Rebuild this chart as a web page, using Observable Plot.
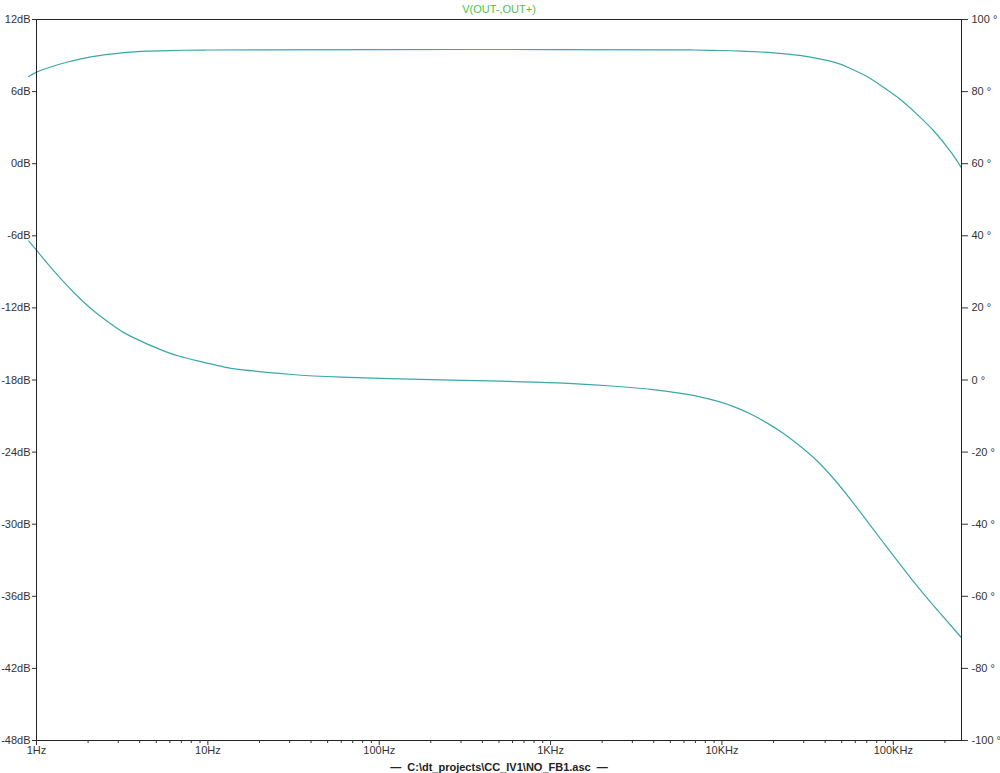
<!DOCTYPE html>
<html>
<head>
<meta charset="utf-8">
<script src="https://cdn.jsdelivr.net/npm/d3@7"></script>
<script src="https://cdn.jsdelivr.net/npm/@observablehq/plot@0.6"></script>
<style>
  html, body { margin: 0; padding: 0; background: #fff; }
</style>
</head>
<body>
<div id="chart"></div>
<script>
// ---- data ----
const freqMag = [0.9, 1, 1.21, 1.52, 1.81, 2.37, 3.71, 4.65, 7.2, 10, 20, 100, 1000, 5000, 6860, 10000, 12900, 20000, 29000, 45000, 56700, 71300, 88800, 111000, 139000, 173000, 216000, 250000];
const magDB   = [7.25, 7.62, 8.05, 8.46, 8.72, 9.02, 9.3, 9.37, 9.44, 9.46, 9.48, 9.5, 9.5, 9.48, 9.46, 9.42, 9.37, 9.23, 8.99, 8.45, 7.9, 7.2, 6.3, 5.3, 4.05, 2.7, 1.0, -0.35];

const freqPhase = [0.9, 1, 1.16, 1.45, 1.81, 2.27, 2.84, 3.55, 5.56, 6.96, 8.7, 12.2, 16, 30, 60, 229, 447, 1100, 2150, 3860, 6030, 7550, 9500, 11800, 14800, 18600, 23100, 29000, 36200, 45300, 56700, 71000, 88800, 111000, 139000, 182000, 250000];
const phaseDeg  = [38.6, 36.0, 32.3, 27.1, 22.4, 18.3, 14.9, 12.1, 8.0, 6.5, 5.3, 3.7, 2.8, 1.6, 0.8, 0.05, -0.25, -0.8, -1.6, -2.6, -3.86, -4.74, -5.94, -7.45, -9.52, -12.1, -15.0, -18.6, -22.6, -27.6, -33.3, -39.4, -45.5, -51.5, -57.4, -64.0, -71.5];

const majorTicks  = [1, 10, 100, 1000, 10000, 100000];
const majorLabels = ["1Hz", "10Hz", "100Hz", "1KHz", "10KHz", "100KHz"];
const minorTicks  = [2,3,4,5,6,7,8,9, 20,30,40,50,60,70,80,90, 200,300,400,500,600,700,800,900,
                     2000,3000,4000,5000,6000,7000,8000,9000, 20000,30000,40000,50000,60000,70000,80000,90000,
                     200000];
const dbTicks  = [12, 6, 0, -6, -12, -18, -24, -30, -36, -42, -48];
const degTicks = [100, 80, 60, 40, 20, 0, -20, -40, -60, -80, -100];

const title   = "V(OUT-,OUT+)";
const caption = "\u2014  C:\\dt_projects\\CC_IV1\\NO_FB1.asc  \u2014";

// phase (deg) shares the frame with magnitude (dB): -100..100 deg <-> -48..12 dB
const degToDb = p => -18 + p * 0.3;

const magData = freqMag.map((f, i) => ({f, v: magDB[i]}));
const phData  = freqPhase.map((f, i) => ({f, p: phaseDeg[i]}));

const curveColor = "#3ba7aa";

const chart = Plot.plot({
  width: 1000,
  height: 773,
  marginLeft: 36,
  marginRight: 39,
  marginTop: 19,
  marginBottom: 33,
  style: {
    fontFamily: "'Liberation Sans', Arial, sans-serif",
    fontSize: "11px",
    background: "#fff",
    color: "#333",
    overflow: "visible"
  },
  x: {type: "log", domain: [1, 250000]},
  y: {domain: [-48, 12]},
  marks: [
    Plot.line(magData, {x: "f", y: "v", stroke: curveColor, strokeWidth: 1.2, curve: "natural", clip: false}),
    Plot.line(phData, {x: "f", y: d => degToDb(d.p), stroke: curveColor, strokeWidth: 1.2, curve: "natural", clip: false}),
    Plot.frame({stroke: "#222", strokeWidth: 1}),
    Plot.axisX(minorTicks, {anchor: "bottom", tickSize: 3, tickFormat: () => "", label: null, stroke: "#333"}),
    Plot.axisX(majorTicks, {anchor: "bottom", tickSize: 5, tickPadding: 1, label: null,
      tickFormat: d => majorLabels[majorTicks.indexOf(d)], stroke: "#333"}),
    Plot.axisY(dbTicks, {anchor: "left", tickSize: 4, tickPadding: 2, label: null,
      tickFormat: d => `${d}dB`, stroke: "#333"}),
    Plot.axisY(degTicks.map(degToDb), {anchor: "right", tickSize: 6, tickPadding: 4, label: null,
      tickFormat: d => `${degTicks[degTicks.map(degToDb).indexOf(d)]} \u00b0`, stroke: "#333"}),
    Plot.text([title], {frameAnchor: "top", lineAnchor: "middle", dy: -10.5, fill: "#4cc24c", fontSize: 11}),
    Plot.text([caption], {frameAnchor: "bottom", lineAnchor: "middle", dy: 26.5, fill: "#222", fontWeight: "bold", fontSize: 11})
  ]
});

document.getElementById("chart").appendChild(chart);
</script>
</body>
</html>
